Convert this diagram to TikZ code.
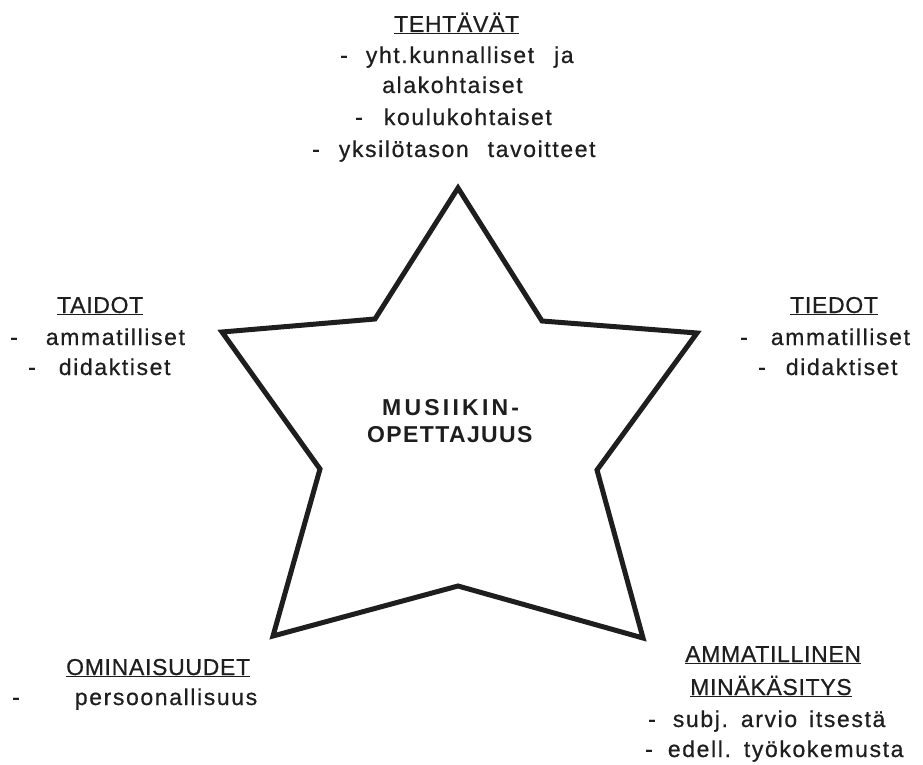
\documentclass[tikz,border=0pt]{standalone}
\usepackage{fontspec}
\setmainfont{Liberation Sans}
\newfontfamily\labfont[LetterSpace=7,FakeBold=0.6]{Liberation Sans}
\newfontfamily\headfont[LetterSpace=3,FakeBold=0.6]{Liberation Sans}
\newfontfamily\titfont[LetterSpace=14]{Liberation Sans}
\newfontfamily\titfontb[LetterSpace=6]{Liberation Sans}
\definecolor{ink}{HTML}{1E1E1E}
\tikzset{
  lab/.style={anchor=base west, inner sep=0pt, text=ink, font=\labfont\fontsize{23}{31}\selectfont},
  head/.style={anchor=base west, inner sep=0pt, text=ink, font=\headfont\fontsize{23}{31}\selectfont},
  center/.style={anchor=base west, inner sep=0pt, text=ink, font=\fontsize{23}{28}\selectfont\bfseries},
  starline/.style={draw=ink, line width=5pt, line join=miter, miter limit=20}
}
\newcommand{\dsh}[1]{-\hspace{#1pt}}
\newcommand{\wsp}[1]{\hspace{#1pt}}
\begin{document}
\begin{tikzpicture}[x=1pt,y=-1pt]
\useasboundingbox[fill=white] (0,0) rectangle (923,765);
% star
\draw[starline] (458,188) -- (542,321) -- (697,333) -- (597,470) -- (643,638)
  -- (458,586) -- (273,636) -- (320,469) -- (222,332) -- (375,319) -- cycle;
% centre
\node[center] (c1) at (382,415) {\titfont MUSIIKIN-};
\node[center] (c2) at (367,442) {\titfontb OPETTAJUUS};
% top
\node[head] (t0) at (394,32) {\underline{TEHTÄVÄT}};
\node[lab] (t1) at (340,63) {\dsh{18}yht.kunnalliset\wsp{20}ja};
\node[lab] (t2) at (382,93) {alakohtaiset};
\node[lab] (t3) at (355,125) {\dsh{21}koulukohtaiset};
\node[lab] (t4) at (312,157) {\dsh{19}yksilötason\wsp{19}tavoitteet};
% left
\node[head] (l0) at (57,313) {\underline{TAIDOT}};
\node[lab] (l1) at (10,345) {\dsh{28}ammatilliset};
\node[lab] (l2) at (28,375) {\dsh{23}didaktiset};
% right
\node[head] (r0) at (790,313) {\underline{TIEDOT}};
\node[lab] (r1) at (740,345) {\dsh{23}ammatilliset};
\node[lab] (r2) at (758,375) {\dsh{20}didaktiset};
% bottom left
\node[head] (o0) at (66,675) {\underline{OMINAISUUDET}};
\node[lab] (o1) at (12,705) {\dsh{55}persoonallisuus};
% bottom right
\node[head] (a0) at (685,662) {\underline{AMMATILLINEN}};
\node[head] (a1) at (690,695) {\underline{MINÄKÄSITYS}};
\node[lab] (a2) at (648,727) {\dsh{17}subj.\wsp{13}arvio\wsp{12}itsestä};
\node[lab] (a3) at (645,757) {\dsh{15}edell.\wsp{13}työkokemusta};
\end{tikzpicture}
\end{document}
